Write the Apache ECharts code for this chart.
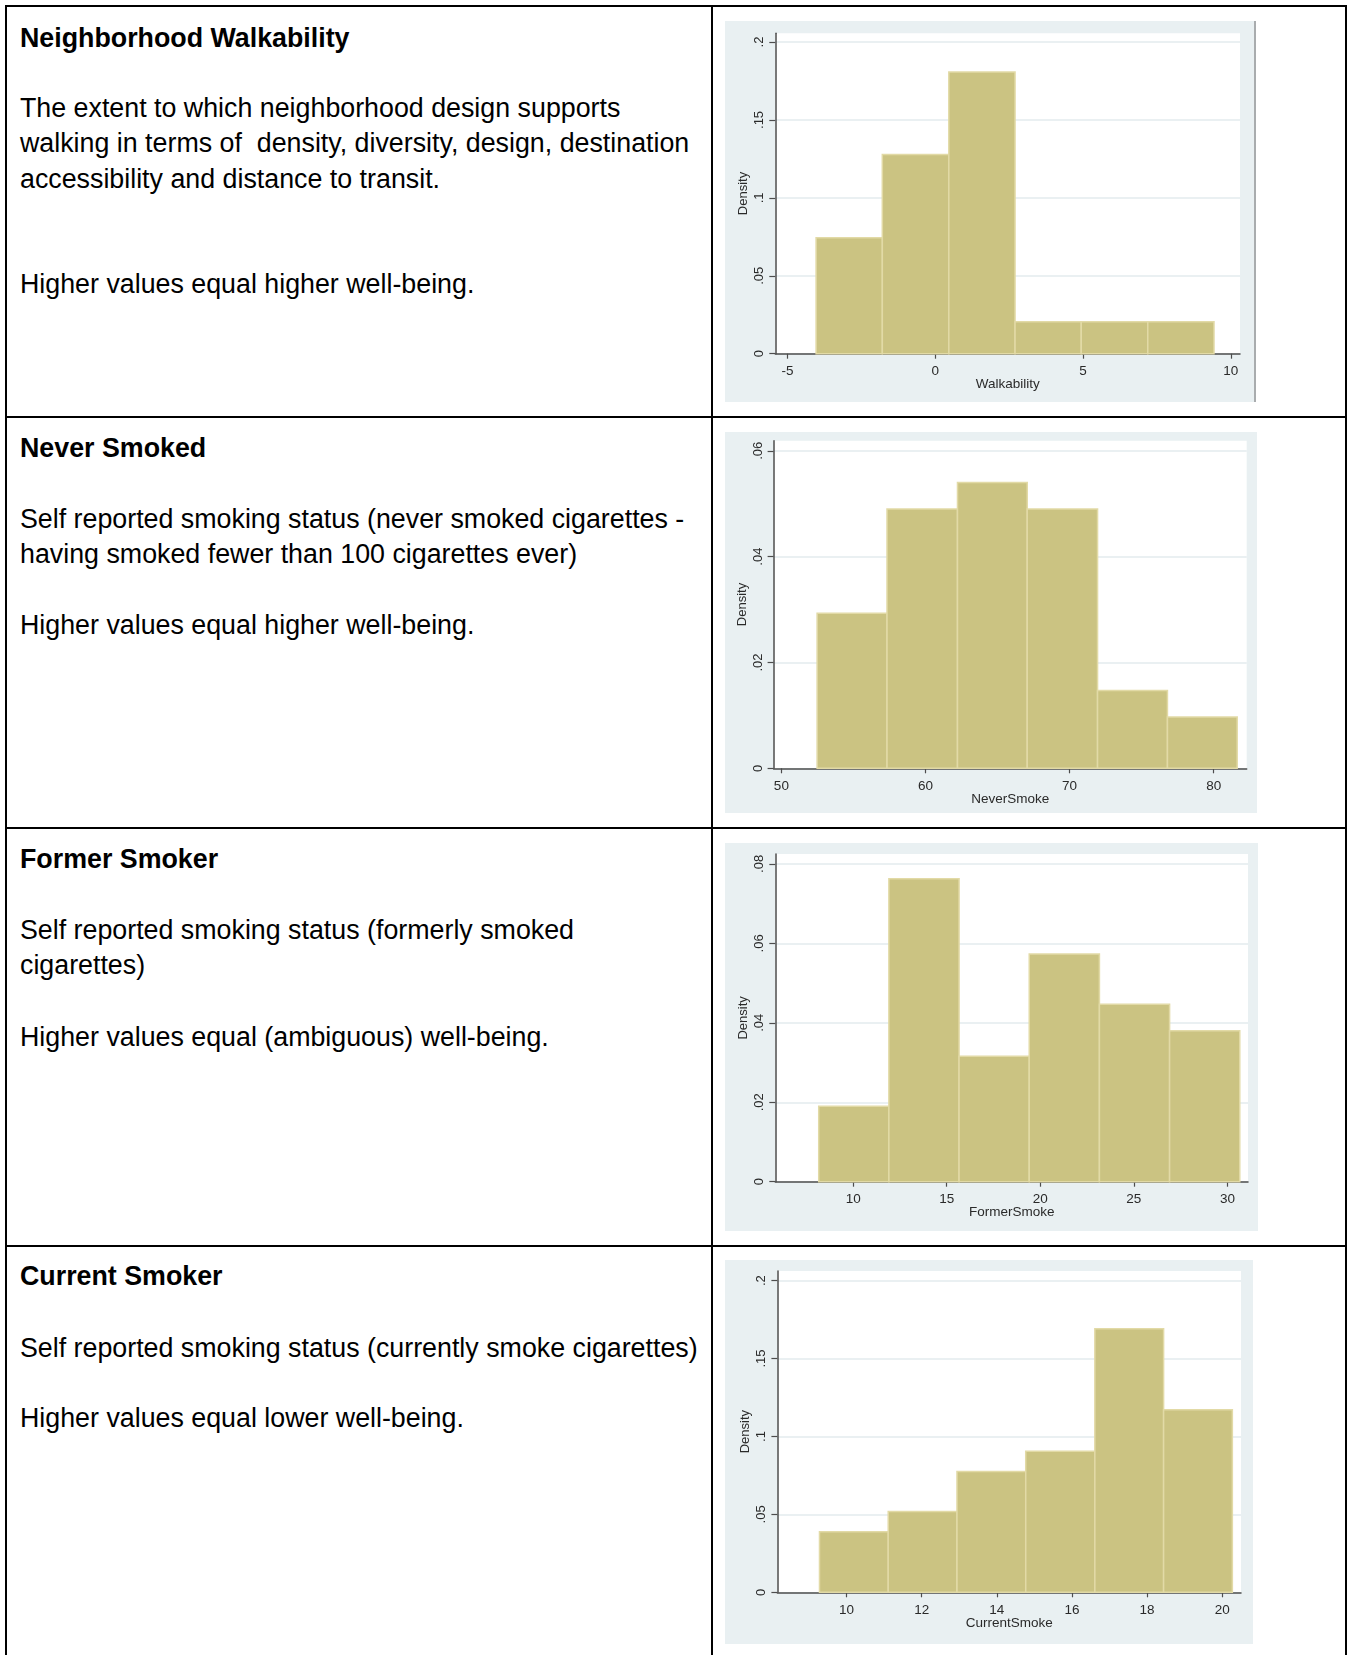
<!DOCTYPE html>
<html>
<head>
<meta charset="utf-8">
<title>Well-being indicators</title>
<script src="https://cdn.jsdelivr.net/npm/echarts@6/dist/echarts.min.js"></script>
<style>
  body { margin: 0; background: #fff; }
  #page { position: relative; width: 1347px; height: 1655px; overflow: hidden;
          font-family: "Liberation Sans", Arial, sans-serif; color: #000; }
  .ln { position: absolute; background: #000; }
  .txt { position: absolute; left: 20px; font-size: 26.8px; line-height: 35.3px; white-space: pre; }
  .ttl { font-weight: bold; }
  .chart { position: absolute; background: #e9f0f2; }
</style>
</head>
<body>
<div id="page">
  <!-- table lines -->
  <div class="ln" style="left:5px;top:5px;width:1342px;height:2px"></div>
  <div class="ln" style="left:5px;top:5px;width:2px;height:1650px"></div>
  <div class="ln" style="left:711px;top:5px;width:2px;height:1650px"></div>
  <div class="ln" style="left:1345px;top:5px;width:2px;height:1650px"></div>
  <div class="ln" style="left:5px;top:416px;width:1342px;height:2px"></div>
  <div class="ln" style="left:5px;top:827px;width:1342px;height:2px"></div>
  <div class="ln" style="left:5px;top:1245px;width:1342px;height:2px"></div>

  <!-- left column text -->
  <div class="txt ttl" style="top:21px">Neighborhood Walkability</div>
  <div class="txt" style="top:91px">The extent to which neighborhood design supports
walking in terms of  density, diversity, design, destination
accessibility and distance to transit.</div>
  <div class="txt" style="top:267px">Higher values equal higher well-being.</div>

  <div class="txt ttl" style="top:431px">Never Smoked</div>
  <div class="txt" style="top:502px">Self reported smoking status (never smoked cigarettes -
having smoked fewer than 100 cigarettes ever)</div>
  <div class="txt" style="top:608px">Higher values equal higher well-being.</div>

  <div class="txt ttl" style="top:842px">Former Smoker</div>
  <div class="txt" style="top:913px">Self reported smoking status (formerly smoked
cigarettes)</div>
  <div class="txt" style="top:1020px">Higher values equal (ambiguous) well-being.</div>

  <div class="txt ttl" style="top:1259px">Current Smoker</div>
  <div class="txt" style="top:1331px">Self reported smoking status (currently smoke cigarettes)</div>
  <div class="txt" style="top:1401px">Higher values equal lower well-being.</div>

  <!-- histograms -->
  <div id="c1" class="chart" style="left:725px;top:21px;width:529px;height:381px;border-right:2px solid #a9acae"></div>
  <div id="c2" class="chart" style="left:725px;top:432px;width:532px;height:381px"></div>
  <div id="c3" class="chart" style="left:725px;top:843px;width:533px;height:388px"></div>
  <div id="c4" class="chart" style="left:725px;top:1260px;width:528px;height:384px"></div>
</div>

<script>
// bin edges and densities
const walkBins = [-4.03, -1.79, 0.46, 2.70, 4.94, 7.19, 9.43];
const walkDensity = [0.0744, 0.1278, 0.1808, 0.0205, 0.0205, 0.0205];
const walkXTicks = [-5, 0, 5, 10];
const walkYTicks = [0, 0.05, 0.1, 0.15, 0.2];

const neverBins = [52.48, 57.33, 62.22, 67.06, 71.94, 76.79, 81.63];
const neverDensity = [0.0293, 0.0490, 0.0540, 0.0490, 0.0147, 0.0097];
const neverXTicks = [50, 60, 70, 80];
const neverYTicks = [0, 0.02, 0.04, 0.06];

const formerBins = [8.16, 11.91, 15.66, 19.41, 23.16, 26.91, 30.66];
const formerDensity = [0.0190, 0.0763, 0.0316, 0.0573, 0.0447, 0.0380];
const formerXTicks = [10, 15, 20, 25, 30];
const formerYTicks = [0, 0.02, 0.04, 0.06, 0.08];

const currentBins = [9.28, 11.11, 12.94, 14.77, 16.61, 18.44, 20.27];
const currentDensity = [0.0389, 0.0518, 0.0776, 0.0905, 0.1692, 0.1172];
const currentXTicks = [10, 12, 14, 16, 18, 20];
const currentYTicks = [0, 0.05, 0.1, 0.15, 0.2];

const FONT = '"Liberation Sans", Arial, sans-serif';
const TXT = '#2a2a2a';

// stata style: ".05" instead of "0.05"
function stataLabel(v) {
  return v === 0 ? '0' : String(v).replace(/^0\./, '.').replace(/^-0\./, '-.');
}

function initHist(id, bins, dens, xTicks, yTicks, xName, xRange, yMax, grid) {
  const myChart = echarts.init(document.getElementById(id));
  const data = dens.map((d, i) => [bins[i], bins[i + 1], d]);
  let option = {
    animation: false,
    grid: Object.assign({ outerBoundsMode: 'none' }, grid),
    xAxis: {
      type: 'value',
      min: xRange[0],
      max: xRange[1],
      name: xName,
      nameLocation: 'middle',
      nameGap: 23.5,
      nameMoveOverlap: false,
      nameTextStyle: { color: TXT, fontSize: 13.5, fontFamily: FONT },
      axisLine: { onZero: false, lineStyle: { color: '#4d4d4d', width: 1.5 } },
      axisTick: { customValues: xTicks, length: 5, lineStyle: { color: '#4d4d4d', width: 1.2 } },
      axisLabel: { customValues: xTicks, margin: 11, color: TXT, fontSize: 13.5, fontFamily: FONT, formatter: stataLabel },
      splitLine: { show: false }
    },
    yAxis: {
      type: 'value',
      min: 0,
      max: yMax,
      name: 'Density',
      nameLocation: 'middle',
      nameGap: 25,
      nameMoveOverlap: false,
      nameTextStyle: { color: TXT, fontSize: 13, fontFamily: FONT },
      axisLine: { show: true, onZero: false, lineStyle: { color: '#4d4d4d', width: 1.5 } },
      axisTick: { show: true, customValues: yTicks, length: 6, lineStyle: { color: '#4d4d4d', width: 1.2 } },
      axisLabel: { customValues: yTicks, rotate: 90, margin: 9, color: TXT, fontSize: 13, fontFamily: FONT, formatter: stataLabel },
      splitLine: { show: true, lineStyle: { color: '#e3ebee', width: 1.5 } }
    },
    series: [
      {
        type: 'custom',
        data: data,
        renderItem: function (params, api) {
          const p0 = api.coord([api.value(0), api.value(2)]);
          const p1 = api.coord([api.value(1), 0]);
          return {
            type: 'rect',
            shape: { x: p0[0], y: p0[1], width: p1[0] - p0[0], height: p1[1] - p0[1] },
            style: { fill: '#cbc382', stroke: '#e2daa6', lineWidth: 1.5 }
          };
        }
      }
    ]
  };
  // the plot area itself is white
  option.grid.show = true;
  option.grid.backgroundColor = '#ffffff';
  option.grid.borderWidth = 0;
  myChart.setOption(option);
  return myChart;
}

initHist('c1', walkBins, walkDensity, walkXTicks, walkYTicks, 'Walkability',
  [-5.41, 10.31], 0.2056, { left: 50.3, right: 14, top: 12.3, bottom: 48.3 });
initHist('c2', neverBins, neverDensity, neverXTicks, neverYTicks, 'NeverSmoke',
  [49.46, 82.29], 0.0619, { left: 48.6, right: 10.3, top: 8.7, bottom: 44.7 });
initHist('c3', formerBins, formerDensity, formerXTicks, formerYTicks, 'FormerSmoke',
  [5.84, 31.1], 0.0825, { left: 50.3, right: 10, top: 11, bottom: 49.3 });
initHist('c4', currentBins, currentDensity, currentXTicks, currentYTicks, 'CurrentSmoke',
  [8.16, 20.50], 0.2062, { left: 52.4, right: 12, top: 11, bottom: 51.7 });
</script>
</body>
</html>
